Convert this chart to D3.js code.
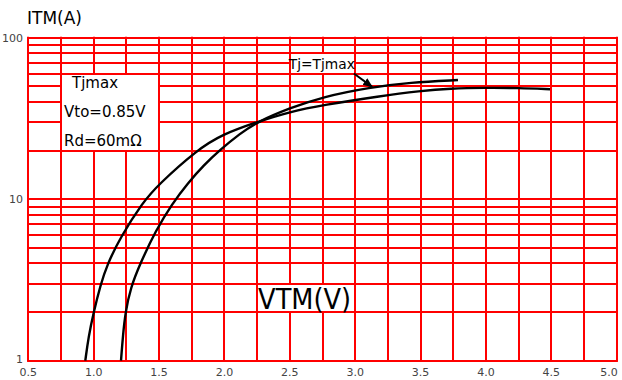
<!doctype html>
<html>
<head>
<meta charset="utf-8"/>
<script src="https://cdnjs.cloudflare.com/ajax/libs/d3/7.8.5/d3.min.js"></script>
<style>
  body { margin: 0; background: #fff; }
  svg { display: block; font-family: "DejaVu Sans", sans-serif; }
  .grid { stroke: #ff0000; stroke-width: 2px; }
  .curve { fill: none; stroke: #000; stroke-width: 2.4px; }
  .tick { font-size: 11px; fill: #444; }
</style>
</head>
<body>
<svg width="622" height="380"></svg>
<script>
// values: [VTM (V), ITM (A)]
// curve starting at ~0.94 V (flattens to ~48 A at 4.5 V)
var curveA = [[0.936,1],[0.96,1.4],[1.0,2],[1.052,2.94],[1.102,3.91],[1.201,5.75],[1.377,9.61],
  [1.492,12.24],[1.79,20.2],[1.989,25.3],[2.249,30.06],[2.501,34.8],[2.754,38.3],
  [3.19,43.5],[3.496,46.8],[3.725,48.5],[4.0,49.0],[4.25,48.8],[4.49,48.0]];
// curve starting at ~1.21 V (ends ~54 A at 3.8 V)
var curveB = [[1.209,1],[1.224,1.44],[1.243,2.0],[1.282,2.82],[1.354,3.97],[1.477,6.45],
  [1.599,9.34],[1.721,12.6],[1.844,16.3],[1.966,20.2],[2.119,25.5],[2.249,30.06],
  [2.501,36.7],[2.754,43.1],[3.113,49.3],[3.419,52.8],[3.786,54.7]];

var xTicks = [0.5,1.0,1.5,2.0,2.5,3.0,3.5,4.0,4.5,5.0];
var xGrid = d3.range(0.5, 5.001, 0.25);
var yTicks = [1,10,100];
var yGrid = [1,2,3,4,5,6,7,8,9,10,20,30,40,50,60,70,80,90,100];

var infoLines = ["Tjmax","Vto=0.85V","Rd=60m\u03a9"];
var curveLabel = "Tj=Tjmax";
var xTitle = "VTM(V)", yTitle = "ITM(A)";

var svg = d3.select("svg");
var x = d3.scaleLinear().domain([0.5,5.0]).range([28.3,616.7]);
var y = d3.scaleLog().domain([1,100]).range([360.7,37.7]);

var g = svg.append("g");
g.selectAll("line.h").data(yGrid).enter().append("line")
  .attr("class","grid h")
  .attr("x1",x(0.5)-1).attr("x2",x(5.0)+1)
  .attr("y1",d=>Math.round(y(d))).attr("y2",d=>Math.round(y(d)));
g.selectAll("line.v").data(xGrid).enter().append("line")
  .attr("class","grid v")
  .attr("y1",y(1)+1).attr("y2",y(100)-1)
  .attr("x1",d=>Math.round(x(d))).attr("x2",d=>Math.round(x(d)));

// white label boxes over the grid
function box(v0,v1,i0,i1){
  svg.append("rect")
    .attr("x",Math.round(x(v0))+1).attr("y",Math.round(y(i1))+1)
    .attr("width",Math.round(x(v1))-Math.round(x(v0))-2)
    .attr("height",Math.round(y(i0))-Math.round(y(i1))-2)
    .attr("fill","#fff");
}
box(0.75,1.5,20,60);
box(2.25,3.0,2,3);
box(2.5,3.0,60,80);

svg.selectAll("text.info").data(infoLines).enter().append("text")
  .attr("x",(d,i)=> i==0 ? 72 : 64)
  .attr("y",(d,i)=>88 + i*29)
  .style("font-size","15px")
  .text(d=>d);

svg.append("text").attr("x",x(2.25)+1).attr("y",y(2)-3)
  .style("font-size","28px").attr("textLength",93).attr("lengthAdjust","spacingAndGlyphs")
  .text(xTitle);
svg.append("text").attr("x",27).attr("y",24).style("font-size","17px").text(yTitle);

svg.append("text").attr("x",x(2.5)-1).attr("y",y(60)-5)
  .style("font-size","14px").attr("textLength",66).attr("lengthAdjust","spacingAndGlyphs")
  .text(curveLabel);

// arrow from label to curve
svg.append("defs").append("marker").attr("id","ah")
  .attr("viewBox","0 0 10 10").attr("refX",9).attr("refY",5)
  .attr("markerWidth",5).attr("markerHeight",5).attr("orient","auto")
  .append("path").attr("d","M0,1L10,5L0,9z").attr("fill","#000");
svg.append("line")
  .attr("x1",x(2.99)).attr("y1",y(60)).attr("x2",x(3.13)).attr("y2",y(49.6))
  .attr("stroke","#000").attr("stroke-width",2).attr("marker-end","url(#ah)");

var line = d3.line().x(d=>x(d[0])).y(d=>y(d[1])).curve(d3.curveBasis);
svg.append("path").datum(curveA).attr("class","curve").attr("d",line);
svg.append("path").datum(curveB).attr("class","curve").attr("d",line);

svg.selectAll("text.xt").data(xTicks).enter().append("text")
  .attr("class","tick").attr("x",d=>Math.min(x(d),609)).attr("y",376)
  .attr("text-anchor","middle").text(d=>d.toFixed(1));
svg.selectAll("text.yt").data(yTicks).enter().append("text")
  .attr("class","tick").attr("x",23).attr("y",d=>y(d)+ (d==1 ? 2 : 4))
  .attr("text-anchor","end").text(d=>d);
</script>
</body>
</html>
